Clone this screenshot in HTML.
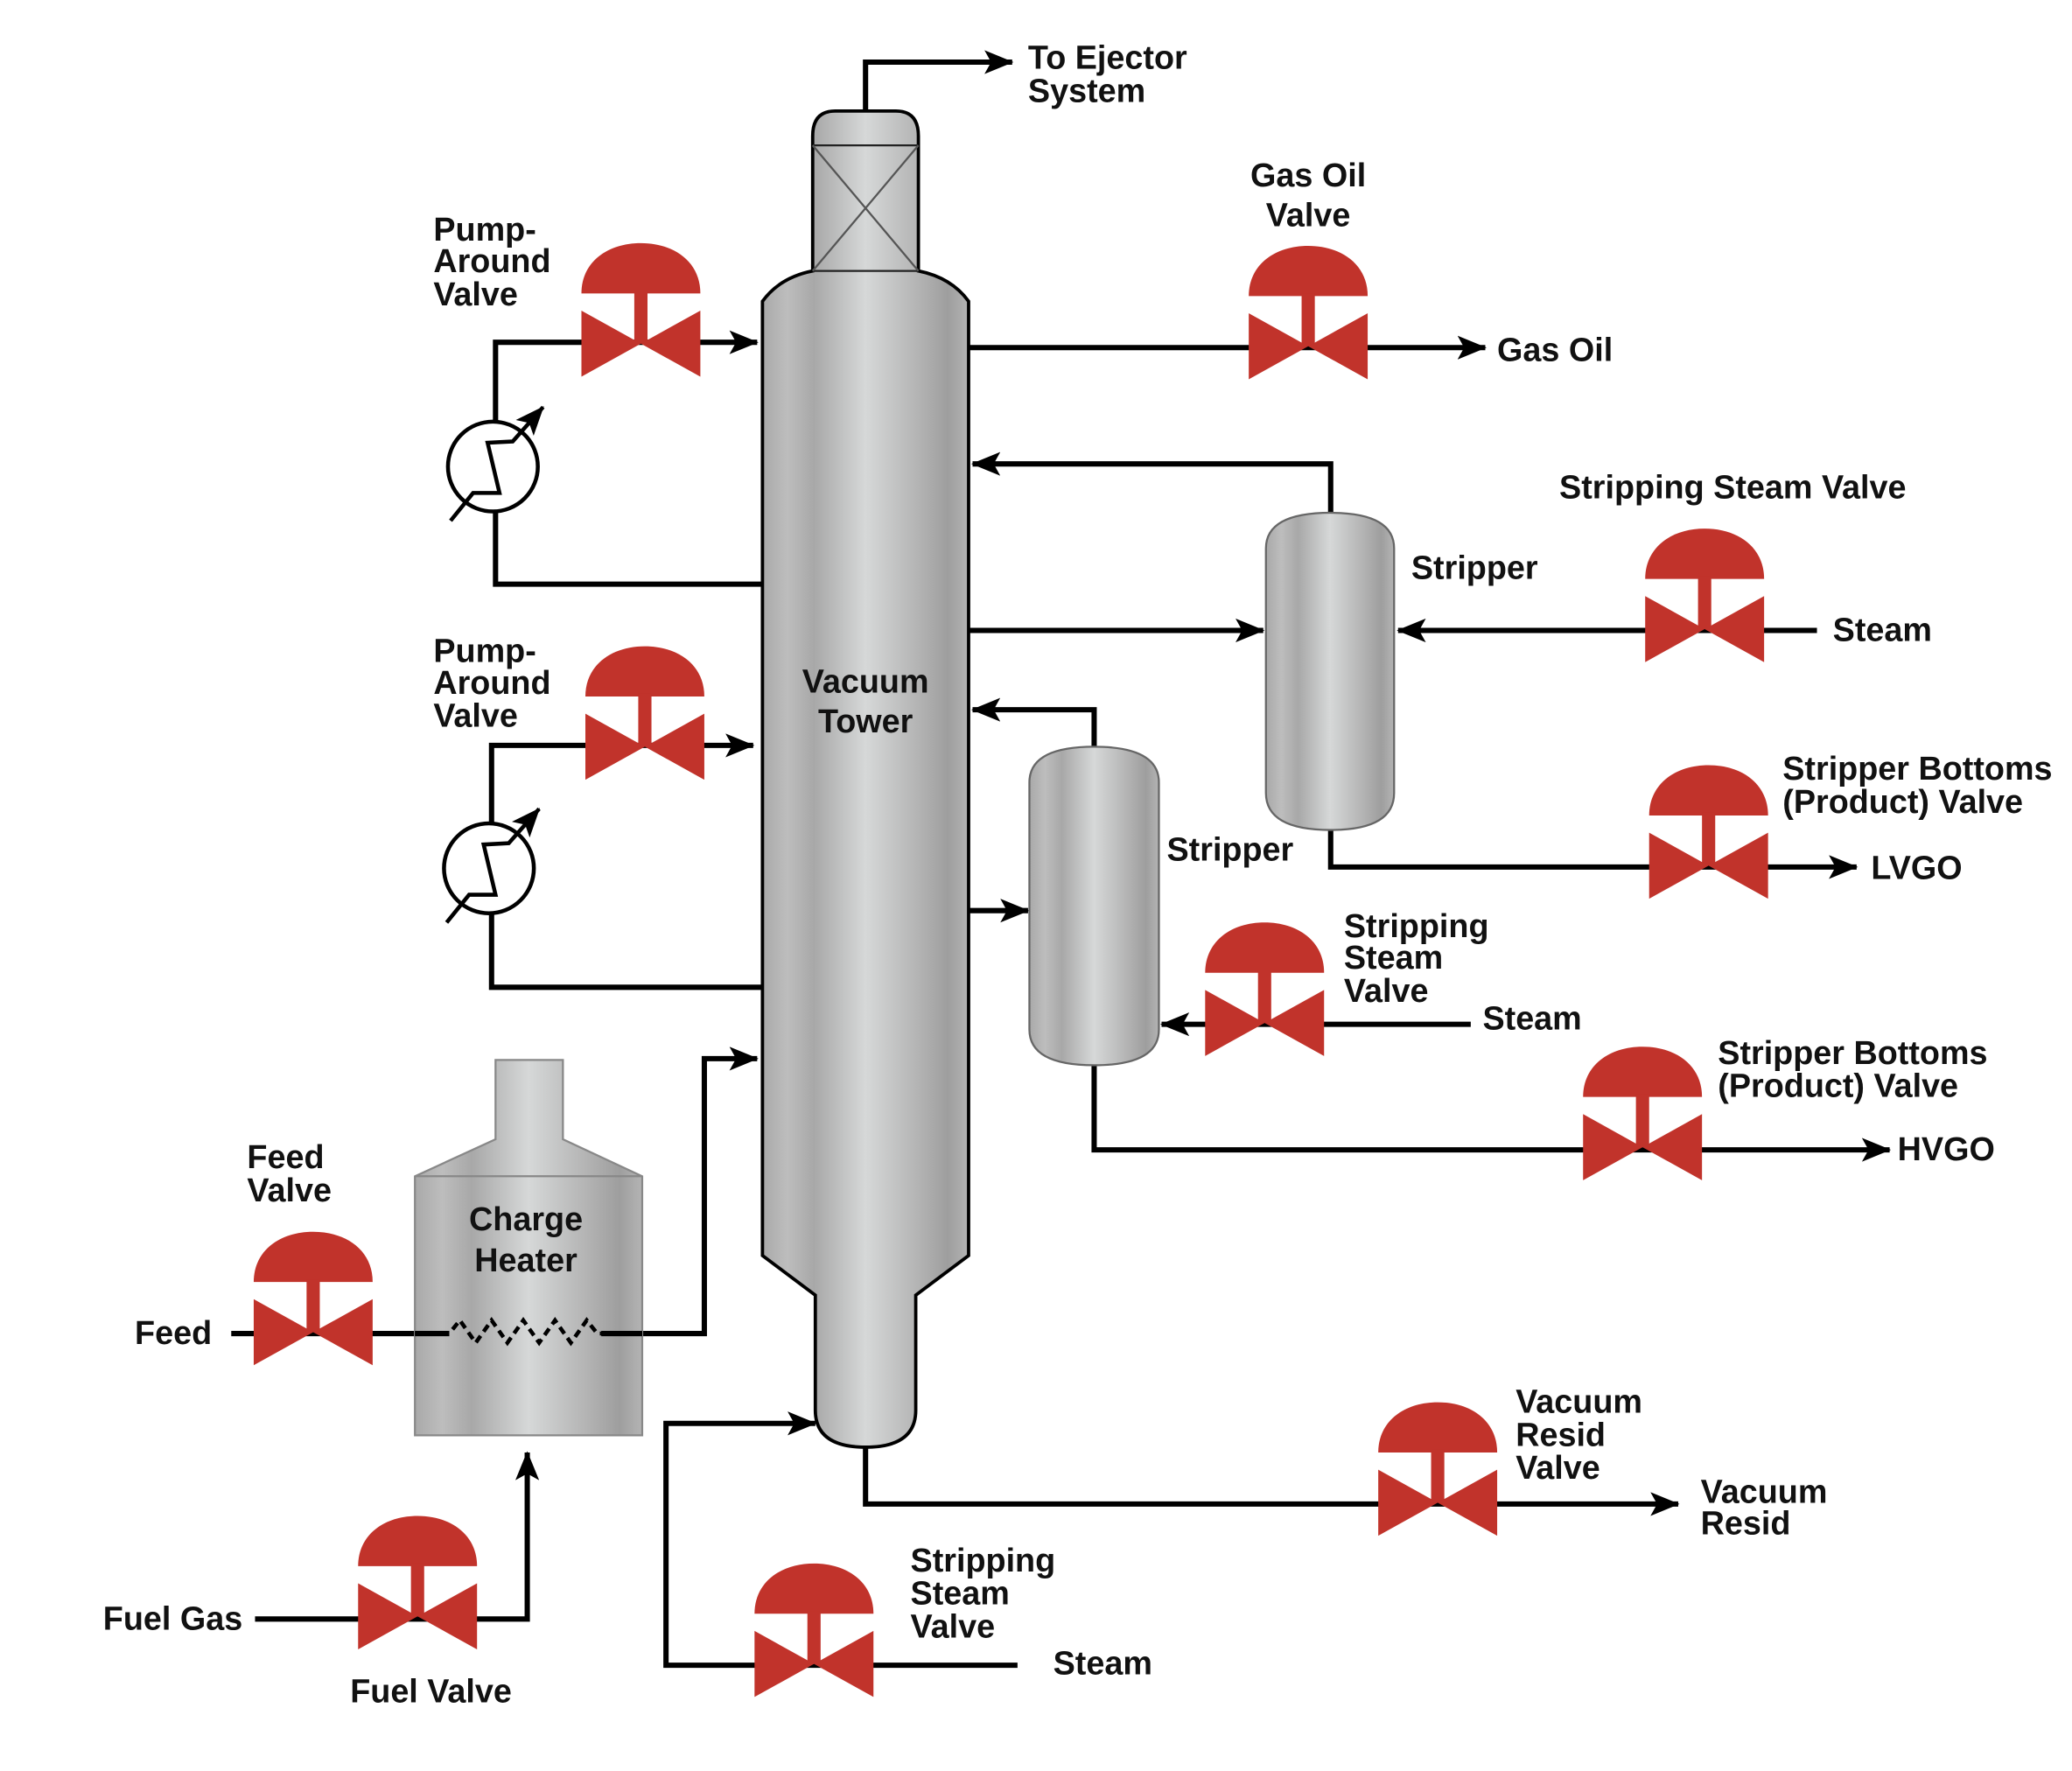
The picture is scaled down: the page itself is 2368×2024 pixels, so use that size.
<!DOCTYPE html>
<html><head><meta charset="utf-8"><style>
html,body{margin:0;padding:0;background:#fff}
svg{display:block}
text{font-family:"Liberation Sans",Arial,sans-serif;font-weight:bold;font-size:25px;fill:#111}
</style></head><body>
<svg width="2368" height="2024" viewBox="0 0 1568 1340" preserveAspectRatio="none" xmlns="http://www.w3.org/2000/svg">
<defs>
<linearGradient id="m" x1="0" x2="1" y1="0" y2="0">
<stop offset="0" stop-color="#a9a9a9"/><stop offset="0.12" stop-color="#bdbdbd"/><stop offset="0.25" stop-color="#a8a8a8"/>
<stop offset="0.5" stop-color="#d6d8d8"/><stop offset="0.78" stop-color="#b0b0b0"/><stop offset="0.9" stop-color="#9e9e9e"/><stop offset="1" stop-color="#b4b4b4"/>
</linearGradient>
<g id="v" fill="#c1332b">
<path d="M-45,-38 C-45,-62 -25,-76 0,-76 C25,-76 45,-62 45,-38 Z"/>
<rect x="-5" y="-40" width="10" height="40"/>
<path d="M-45,-25 L0,0 L-45,25Z M45,-25 L0,0 L45,25Z"/>
</g>
<marker id="a" viewBox="0 0 22 18" refX="21" refY="9" markerWidth="22" markerHeight="18" markerUnits="userSpaceOnUse" orient="auto">
<path d="M0,0 L22,9 L0,18 L5,9Z" fill="#000"/></marker>
<g id="hx">
<circle r="34" fill="#fff" stroke="#000" stroke-width="3"/>
<polyline points="-32,41 -15,20 5,20 -4,-18 15,-19 38,-45" fill="none" stroke="#000" stroke-width="3" marker-end="url(#a)"/>
</g>
</defs>

<g fill="none" stroke="#000" stroke-width="4">
<polyline points="655,86 655,47 766,47" marker-end="url(#a)"/>
<polyline points="577,442 375,442 375,259 573,259" marker-end="url(#a)"/>
<polyline points="577,747 372,747 372,564 570,564" marker-end="url(#a)"/>
<polyline points="733,263 1124,263" marker-end="url(#a)"/>
<polyline points="1007,390 1007,351 736,351" marker-end="url(#a)"/>
<polyline points="733,477 956,477" marker-end="url(#a)"/>
<polyline points="1375,477 1058,477" marker-end="url(#a)"/>
<polyline points="1007,626 1007,656 1405,656" marker-end="url(#a)"/>
<polyline points="828,567 828,537 736,537" marker-end="url(#a)"/>
<polyline points="733,689 778,689" marker-end="url(#a)"/>
<polyline points="1113,775 879,775" marker-end="url(#a)"/>
<polyline points="828,804 828,870 1430,870" marker-end="url(#a)"/>
<polyline points="175,1009 340,1009"/>
<polyline points="460,1009 533,1009 533,801 573,801" marker-end="url(#a)"/>
<polyline points="193,1225 399,1225 399,1099" marker-end="url(#a)"/>
<polyline points="655,1093 655,1138 1270,1138" marker-end="url(#a)"/>
<polyline points="770,1260 504,1260 504,1077 617,1077" marker-end="url(#a)"/>
</g>

<path d="M615,205 L615,103 Q615,84 632,84 L678,84 Q695,84 695,103 L695,205 Q720,210 733,228 L733,950 L693,980 L693,1067 Q693,1095 655,1095 Q617,1095 617,1067 L617,980 L577,950 L577,228 Q590,210 615,205 Z" fill="url(#m)" stroke="#000" stroke-width="2.5"/>
<path d="M615,205 L695,205 M615,110 L695,110" stroke="#222" stroke-width="1.5"/>
<path d="M615,110 L695,205 M695,110 L615,205" stroke="#555" stroke-width="1.5"/>

<path d="M958,415 Q958,388 1007,388 Q1055,388 1055,415 L1055,600 Q1055,628 1007,628 Q958,628 958,600Z" fill="url(#m)" stroke="#666" stroke-width="1.5"/>
<path d="M779,592 Q779,565 828,565 Q877,565 877,592 L877,779 Q877,806 828,806 Q779,806 779,779Z" fill="url(#m)" stroke="#666" stroke-width="1.5"/>

<path d="M375,802 L426,802 L426,862 L486,890 L486,1086 L314,1086 L314,890 L375,862Z" fill="url(#m)" stroke="#888" stroke-width="1.5"/>
<path d="M314,890 L486,890" stroke="#888" stroke-width="1.5"/>
<polyline points="314,1009 340,1009 348,999 360,1016 372,999 384,1016 396,999 408,1016 420,999 432,1016 444,999 452,1009 486,1009" fill="none" stroke="#000" stroke-width="3" stroke-dasharray="6,4"/>
<path d="M314,1009 L340,1009 M455,1009 L486,1009" stroke="#000" stroke-width="4"/>

<use href="#hx" x="373" y="353"/>
<use href="#hx" x="370" y="657"/>

<use href="#v" x="485" y="260"/>
<use href="#v" x="488" y="565"/>
<use href="#v" x="990" y="262"/>
<use href="#v" x="1290" y="476"/>
<use href="#v" x="1293" y="655"/>
<use href="#v" x="957" y="774"/>
<use href="#v" x="1243" y="868"/>
<use href="#v" x="237" y="1008"/>
<use href="#v" x="316" y="1223"/>
<use href="#v" x="1088" y="1137"/>
<use href="#v" x="616" y="1259"/>

<text x="778" y="52">To Ejector</text><text x="778" y="77">System</text>
<text x="328" y="182">Pump-</text><text x="328" y="206">Around</text><text x="328" y="231">Valve</text>
<text x="328" y="501">Pump-</text><text x="328" y="525">Around</text><text x="328" y="550">Valve</text>
<text x="990" y="141" text-anchor="middle">Gas Oil</text><text x="990" y="171" text-anchor="middle">Valve</text>
<text x="1133" y="273">Gas Oil</text>
<text x="655" y="524" text-anchor="middle">Vacuum</text><text x="655" y="554" text-anchor="middle">Tower</text>
<text x="1180" y="377">Stripping Steam Valve</text>
<text x="1068" y="438">Stripper</text>
<text x="1387" y="485">Steam</text>
<text x="1349" y="590">Stripper Bottoms</text><text x="1349" y="615">(Product) Valve</text>
<text x="1416" y="665">LVGO</text>
<text x="883" y="651">Stripper</text>
<text x="1017" y="709">Stripping</text><text x="1017" y="733">Steam</text><text x="1017" y="758">Valve</text>
<text x="1122" y="779">Steam</text>
<text x="1300" y="805">Stripper Bottoms</text><text x="1300" y="830">(Product) Valve</text>
<text x="1436" y="878">HVGO</text>
<text x="398" y="931" text-anchor="middle">Charge</text><text x="398" y="962" text-anchor="middle">Heater</text>
<text x="187" y="884">Feed</text><text x="187" y="909">Valve</text>
<text x="102" y="1017">Feed</text>
<text x="78" y="1233">Fuel Gas</text>
<text x="265" y="1288">Fuel Valve</text>
<text x="1147" y="1069">Vacuum</text><text x="1147" y="1094">Resid</text><text x="1147" y="1119">Valve</text>
<text x="1287" y="1137">Vacuum</text><text x="1287" y="1161">Resid</text>
<text x="689" y="1189">Stripping</text><text x="689" y="1214">Steam</text><text x="689" y="1239">Valve</text>
<text x="797" y="1267">Steam</text>
</svg>
</body></html>
